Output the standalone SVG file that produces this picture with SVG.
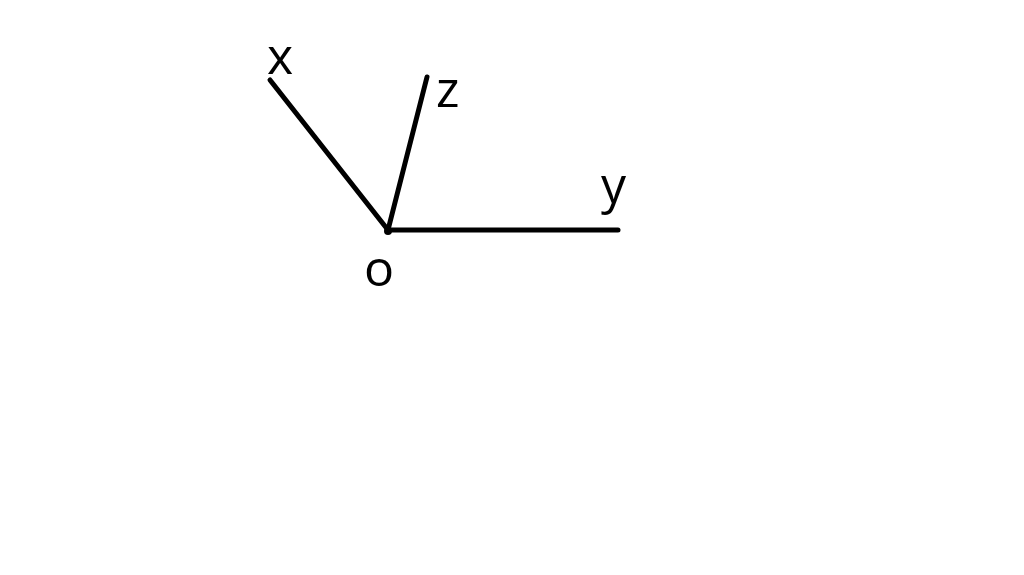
<svg xmlns="http://www.w3.org/2000/svg" width="1024" height="575" viewBox="0 0 1024 575">
<style>
.axis{stroke:#000;stroke-width:5;stroke-linecap:round;fill:none}
.lbl{font-family:"Open Sans","Liberation Sans",sans-serif;font-size:50px;fill:#000}
</style>
<rect width="1024" height="575" fill="#fff"/>
<g id="connectors">
<line class="axis" x1="388" y1="230" x2="270" y2="80"/>
<line class="axis" x1="388" y1="230" x2="427" y2="77"/>
<line class="axis" x1="388" y1="230" x2="618" y2="230"/>
</g>
<g id="origin"><circle cx="388" cy="231" r="4" fill="#000"/><text class="lbl" x="364" y="286">o</text></g>
<g id="x-axis"><text class="lbl" x="267" y="74">x</text></g>
<g id="z-axis"><text class="lbl" x="436" y="107">z</text></g>
<g id="y-axis"><text class="lbl" x="601" y="203">y</text></g>
</svg>
